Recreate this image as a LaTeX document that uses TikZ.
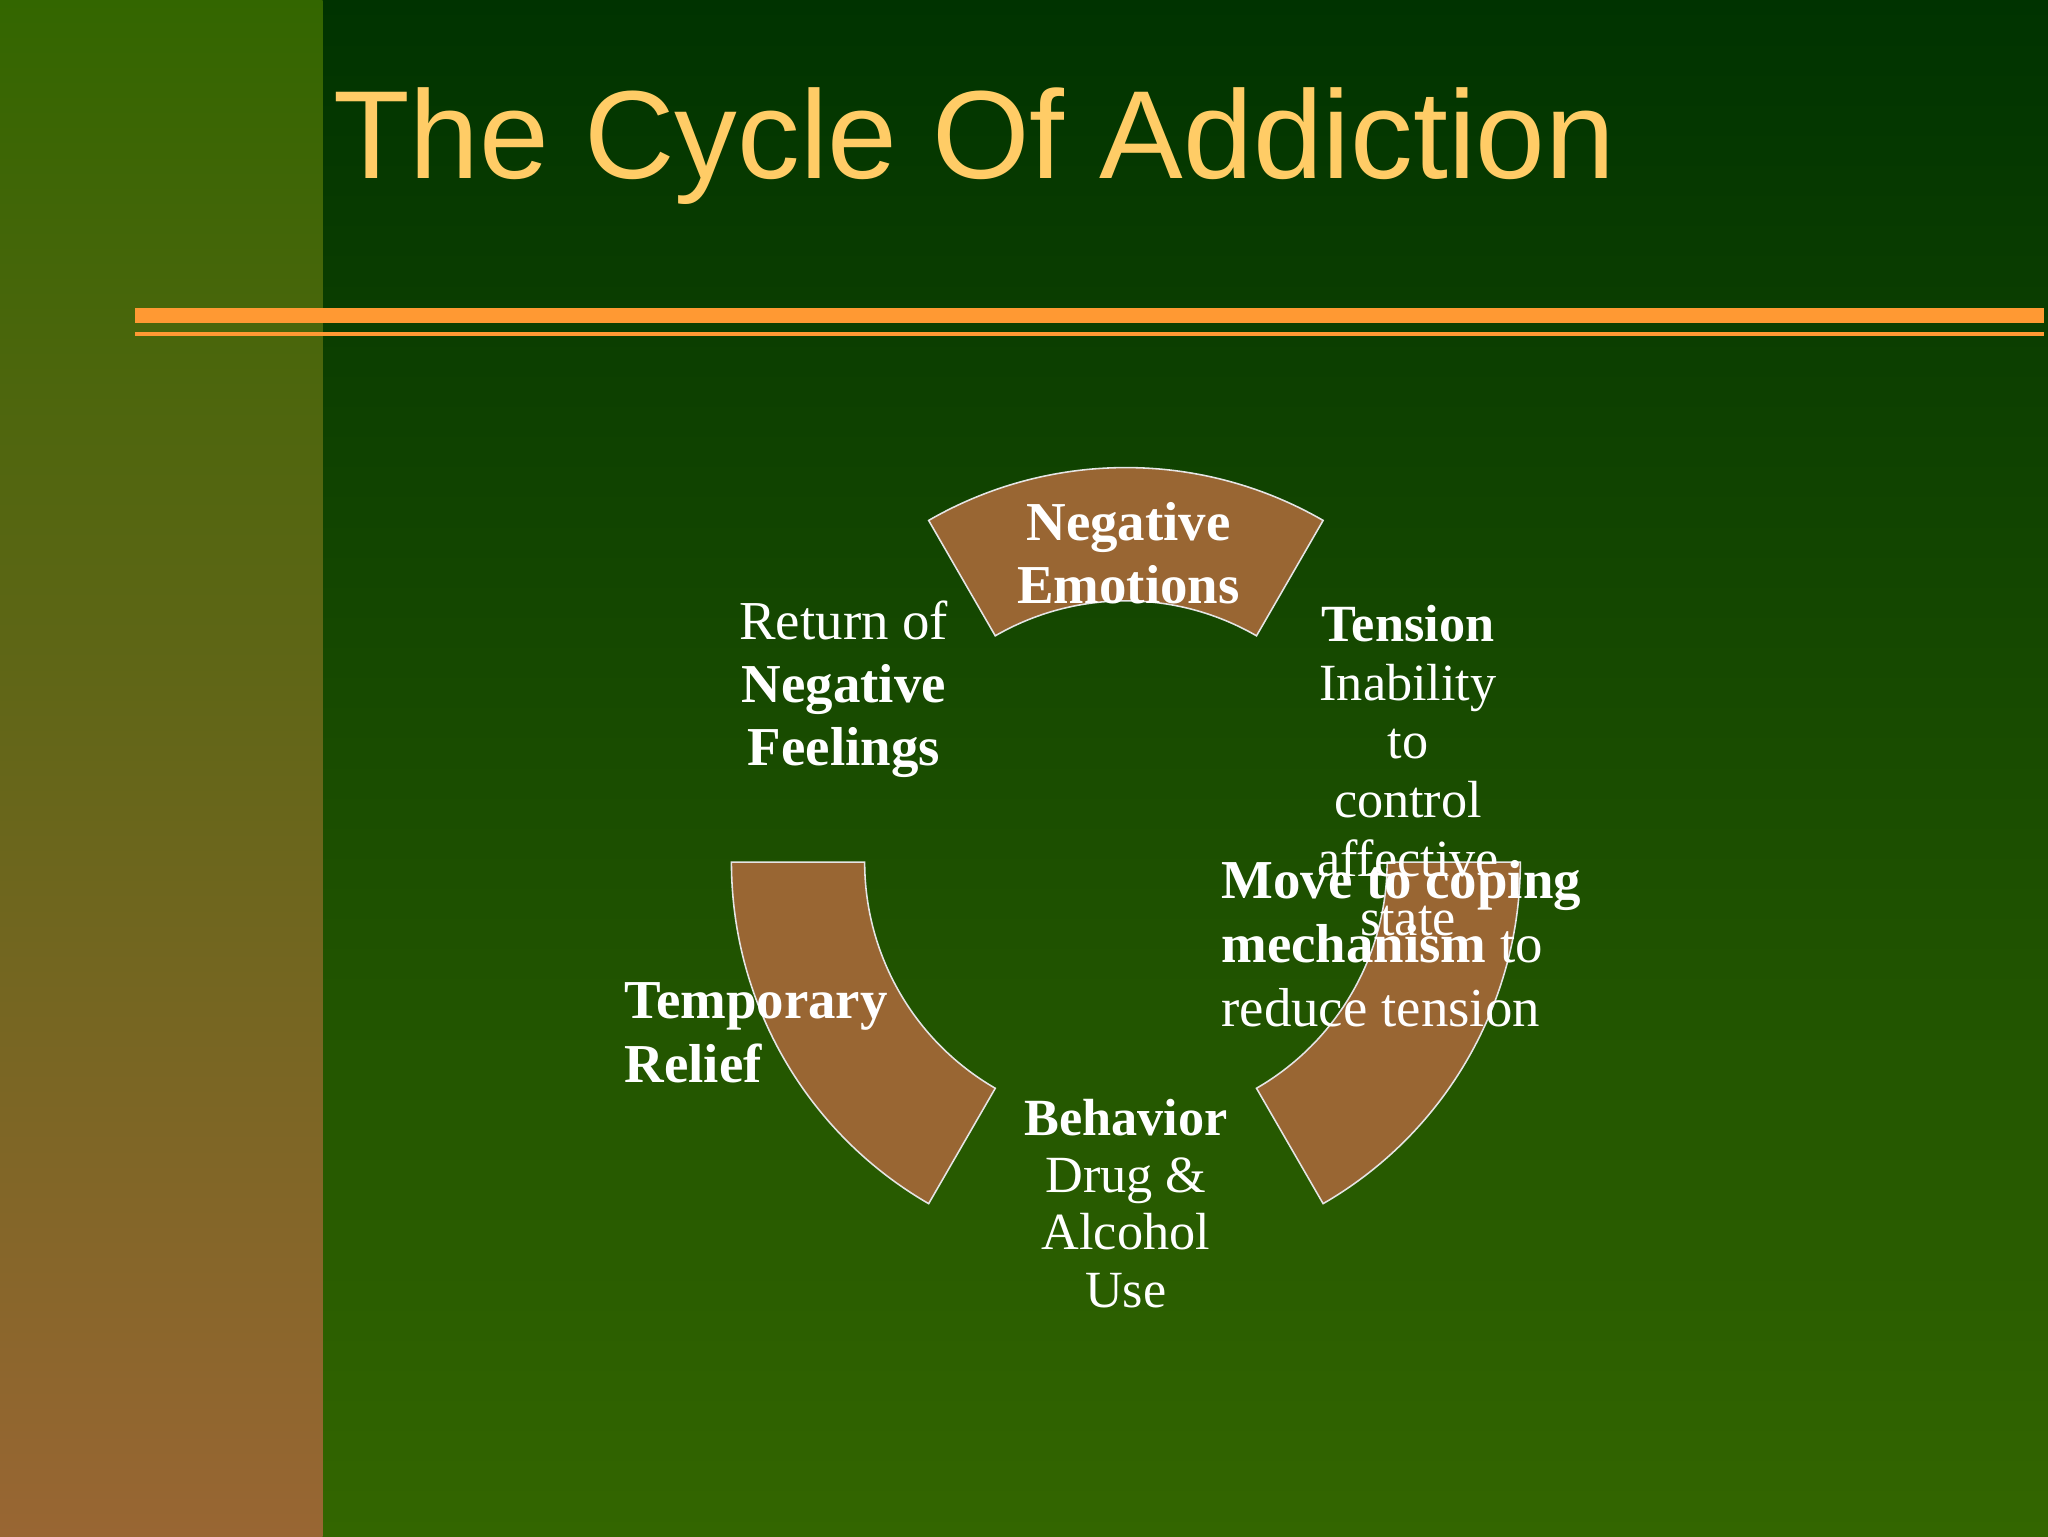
\documentclass[tikz,border=0pt]{standalone}
\usetikzlibrary{calc}
\usepackage{fontspec}
\setmainfont{Liberation Serif}
\newfontfamily\titlefont{Liberation Sans}
\definecolor{bgtop}{HTML}{003300}
\definecolor{bgbot}{HTML}{336600}
\definecolor{striptop}{HTML}{336600}
\definecolor{stripbot}{HTML}{996633}
\definecolor{seg}{HTML}{996633}
\definecolor{rule}{HTML}{FF9933}
\definecolor{ttl}{HTML}{FFCC66}
\tikzset{
  segment/.style={fill=seg,draw=white!80!gray,line width=1.2pt},
  lbl/.style={text=white,font=\fontsize{42}{48}\selectfont,inner sep=0pt}
}
\begin{document}
\begin{tikzpicture}[x=1pt,y=1pt]
\useasboundingbox (0,0) rectangle (1568,1176);
\shade[top color=bgtop,bottom color=bgbot] (0,0) rectangle (1568,1176);
\shade[top color=striptop,bottom color=stripbot] (0,0) rectangle (247,1176);
\fill[rule] (103,929) rectangle (1565,940);
\fill[rule] (103,919) rectangle (1565,922);
\node[anchor=base west,text=ttl,inner sep=0pt,font=\titlefont\fontsize{96}{110}\selectfont] (title) at (255,1039) {The Cycle Of Addiction};
\coordinate (c) at (862,516);
\draw[segment] ($(c)+(60:302)$) arc (60:120:302) -- ($(c)+(120:200)$) arc (120:60:200) -- cycle;
\draw[segment] ($(c)+(180:302)$) arc (180:240:302) -- ($(c)+(240:200)$) arc (240:180:200) -- cycle;
\draw[segment] ($(c)+(0:302)$) arc (0:-60:302) -- ($(c)+(-60:200)$) arc (-60:0:200) -- cycle;
\node[lbl,anchor=base,align=center] (neg) at (864,714) {\textbf{Negative}\\\textbf{Emotions}};
\node[lbl,anchor=base,align=center] (ret) at (646,590) {Return of\\\textbf{Negative}\\\textbf{Feelings}};
\node[lbl,anchor=base,align=center,font=\fontsize{40}{45}\selectfont] (ten) at (1078,460) {\textbf{Tension}\\Inability\\to\\control\\affective\\state};
\node[lbl,anchor=base west,align=left,font=\fontsize{42}{49}\selectfont] (move) at (935,390) {\textbf{Move to coping}\\\textbf{mechanism} to\\reduce tension};
\node[lbl,anchor=base west,align=left,font=\fontsize{42}{49}\selectfont] (temp) at (478,347) {\textbf{Temporary}\\\textbf{Relief}};
\node[lbl,anchor=base,align=center,font=\fontsize{40}{44}\selectfont] (beh) at (862,175) {\textbf{Behavior}\\Drug \&\\Alcohol\\Use};
\end{tikzpicture}
\end{document}
